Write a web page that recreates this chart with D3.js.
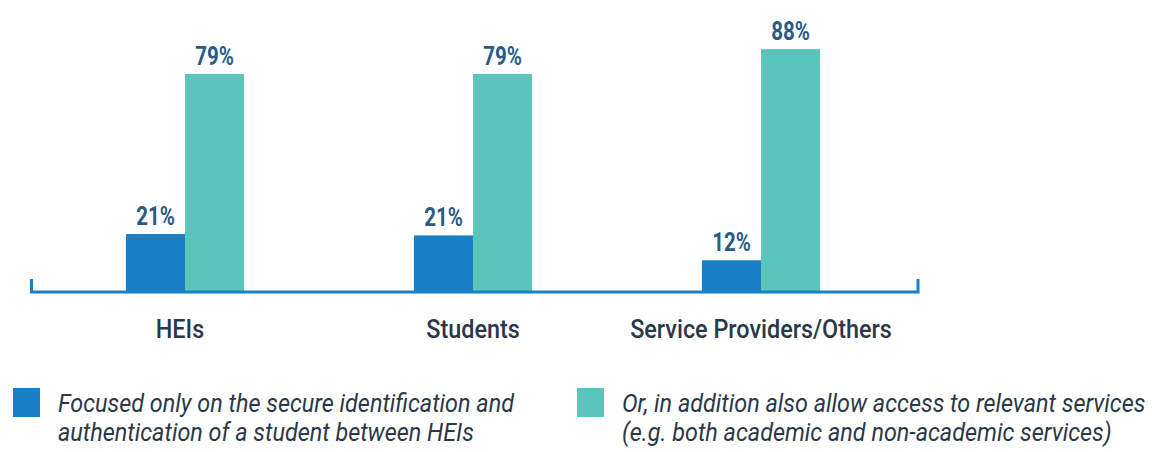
<!DOCTYPE html>
<html>
<head>
<meta charset="utf-8">
<script src="https://cdn.jsdelivr.net/npm/d3@7"></script>
<style>
  html, body { margin: 0; padding: 0; background: #ffffff; }
  svg { display: block; }
</style>
</head>
<body>
<svg id="chart" width="1160" height="452"></svg>
<script>
const categories = ["HEIs", "Students", "Service Providers/Others"];
const seriesNames = [
  "Focused only on the secure identification and authentication of a student between HEIs",
  "Or, in addition also allow access to relevant services (e.g. both academic and non-academic services)"
];
const focusedValues = [21, 20.5, 11.5];
const focusedLabels = ["21%", "21%", "12%"];
const additionValues = [79, 79, 88];
const additionLabels = ["79%", "79%", "88%"];
const legendLines = [
  ["Focused only on the secure identification and", "authentication of a student between HEIs"],
  ["Or, in addition also allow access to relevant services", "(e.g. both academic and non-academic services)"]
];

const colors = ["#1a80c6", "#5bc4bb"];
const labelColor = "#2a5b86";
const textColor = "#2b3847";

const svg = d3.select("#chart");

const baseY = 292;
const y = d3.scaleLinear().domain([0, 100]).range([baseY, 16]);
const x0 = d3.scaleBand().domain(categories).range([41, 905])
  .paddingInner(0.59).paddingOuter(0.295);
const x1 = d3.scaleBand().domain([0, 1]).range([0, x0.bandwidth()]).padding(0);

const series = [
  { values: focusedValues, labels: focusedLabels },
  { values: additionValues, labels: additionLabels }
];

const groups = svg.selectAll("g.cat").data(categories).join("g")
  .attr("class", "cat")
  .attr("transform", d => `translate(${x0(d)},0)`);

groups.each(function(cat, ci) {
  const g = d3.select(this);
  series.forEach((s, si) => {
    g.append("rect")
      .attr("x", x1(si))
      .attr("y", y(s.values[ci]))
      .attr("width", x1.bandwidth())
      .attr("height", baseY - y(s.values[ci]))
      .attr("fill", colors[si]);
    const cx = x1(si) + x1.bandwidth() / 2;
    const cy = y(s.values[ci]) - 9;
    g.append("text")
      .attr("transform", `translate(${cx},${cy}) scale(0.82,1)`)
      .attr("text-anchor", "middle")
      .attr("font-family", "Roboto, sans-serif")
      .attr("font-weight", 700)
      .attr("font-size", 25)
      .attr("fill", labelColor)
      .text(s.labels[ci]);
  });
});

// axis
const axisG = svg.append("g");
axisG.append("path")
  .attr("d", `M31.5,279 V${baseY} H918 V279`)
  .attr("fill", "none")
  .attr("stroke", colors[0])
  .attr("stroke-width", 3);

axisG.selectAll("text.cat").data(categories).join("text")
  .attr("class", "cat")
  .attr("transform", (d, i) => `translate(${x0(d) + x0.bandwidth() / 2 + (i === 0 ? -5 : 0)},338) scale(0.9,1)`)
  .attr("text-anchor", "middle")
  .attr("font-family", "Roboto, sans-serif")
  .attr("font-weight", 500)
  .attr("font-size", 26)
  .attr("fill", textColor)
  .text(d => d);

// legend
const legendX = [13, 577];
const leg = svg.selectAll("g.leg").data(seriesNames).join("g")
  .attr("class", "leg")
  .attr("transform", (d, i) => `translate(${legendX[i]},388)`);
leg.append("rect")
  .attr("width", 27).attr("height", 29)
  .attr("fill", (d, i) => colors[i]);
leg.each(function(d, i) {
  const t = d3.select(this).append("g")
    .attr("transform", "translate(45,0) scale(0.9,1)")
    .append("text")
    .attr("font-family", "Roboto, sans-serif")
    .attr("font-style", "italic")
    .attr("font-size", 26)
    .attr("fill", textColor);
  legendLines[i].forEach((line, li) => {
    t.append("tspan").attr("x", 0).attr("y", 24 + li * 29).text(line);
  });
});
</script>
</body>
</html>
